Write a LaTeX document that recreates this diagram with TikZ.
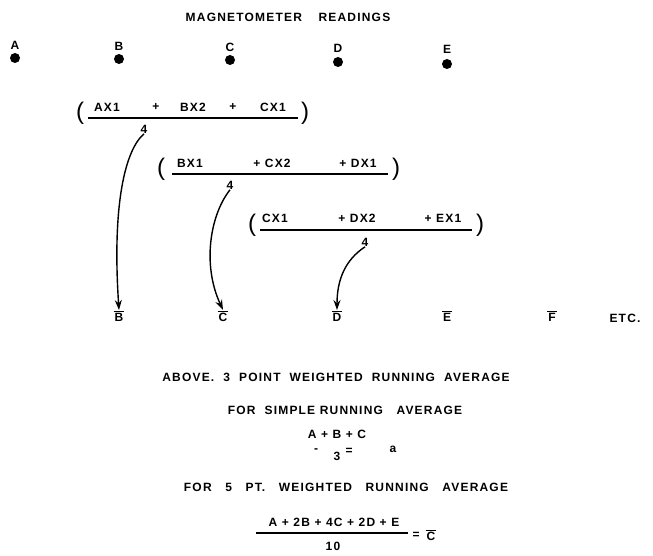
\documentclass[tikz,border=0pt]{standalone}
\usepackage{fontspec}
\newfontfamily\lbl{Liberation Sans}[LetterSpace=10]
\usetikzlibrary{arrows.meta}
\newcommand{\barred}[1]{\vbox{\hrule height 1.3pt\kern1pt\hbox{\kern1pt#1\kern1pt}}}

\begin{document}
\begin{tikzpicture}[x=1pt, y=-1pt,
      t/.style={font=\lbl\fontsize{12}{14}\selectfont\bfseries, inner sep=0pt},
      pt/.style={circle, fill, inner sep=0pt, minimum size=10pt},
      par/.style={font=\lbl\fontsize{24}{26}\selectfont, inner sep=0pt},
      >={Stealth[length=10pt, width=7pt]}, line width=1.4pt]
    \useasboundingbox (0,0) rectangle (653,556);
    \node[t] (title) at (288,17) {MAGNETOMETER\quad\ READINGS};
    % readings
    \node[t] (la) at (15,45) {A};  \node[pt] (pa) at (15,58) {};
    \node[t] (lb) at (119,46) {B}; \node[pt] (pb) at (119,59) {};
    \node[t] (lc) at (230,47) {C}; \node[pt] (pc) at (230,60) {};
    \node[t] (ld) at (338,48) {D}; \node[pt] (pd) at (338,62) {};
    \node[t] (le) at (447,49) {E}; \node[pt] (pe) at (447,64) {};
    % first average
    \node[par] (o1) at (80,113) {(};
    \node[t] (n11) at (107,107) {AX1};
    \node[t] (p11) at (156,107) {+};
    \node[t] (n12) at (193,107) {BX2};
    \node[t] (p12) at (233,107) {+};
    \node[t] (n13) at (273,107) {CX1};
    \node[par] (c1) at (305,113) {)};
    \coordinate (l1) at (88,118); \coordinate (r1) at (298,118);
    \draw[line width=2pt] (l1) -- (r1);
    \node[t] (d1) at (144,129) {4};
    % second average
    \node[par] (o2) at (161,169) {(};
    \node[t] (n21) at (190,163) {BX1};
    \node[t] (n22) at (272,163) {+ CX2};
    \node[t] (n23) at (358,163) {+ DX1};
    \node[par] (c2) at (396,169) {)};
    \coordinate (l2) at (172,174); \coordinate (r2) at (388,174);
    \draw[line width=2pt] (l2) -- (r2);
    \node[t] (d2) at (230,185) {4};
    % third average
    \node[par] (o3) at (252,225) {(};
    \node[t] (n31) at (275,218) {CX1};
    \node[t] (n32) at (357,218) {+ DX2};
    \node[t] (n33) at (443,218) {+ EX1};
    \node[par] (c3) at (480,225) {)};
    \coordinate (l3) at (260,230); \coordinate (r3) at (472,230);
    \draw[line width=2pt] (l3) -- (r3);
    \node[t] (d3) at (365,242) {4};
    % averaged values
    \node[t] (bB) at (119,316) {\barred{B}};
    \node[t] (bC) at (223,316) {\barred{C}};
    \node[t] (bD) at (337,316) {\barred{D}};
    \node[t] (bE) at (447,316) {\barred{E}};
    \node[t] (bF) at (552,316) {\barred{F}};
    \node[t] (etc) at (625,318) {ETC.};
    \draw[->] (d1.south) .. controls (125,150) and (112,205) .. (bB.north);
    \draw[->] (d2.south) .. controls (210,215) and (202,265) .. (bC.north);
    \draw[->] (d3.south) .. controls (345,260) and (337,280) .. (bD.north);
    % notes
    \node[t] (n1) at (336,377) {ABOVE.\ \ 3\ \ POINT\ \ WEIGHTED\ \ RUNNING\ \ AVERAGE};
    \node[t] (n2) at (345,410) {FOR\ \ SIMPLE RUNNING\ \ \ AVERAGE};
    \node[t] (s1) at (337,434) {A + B + C};
    \node[t] (s2) at (316,451) {-};
    \node[t] (s3) at (337,456) {3};
    \node[t] (s4) at (349,451) {=};
    \node[t] (s5) at (393,449) {a};
    \node[t] (n3) at (346,487) {FOR\ \ \ 5\ \ \ PT.\ \ \ WEIGHTED\ \ \ RUNNING\ \ \ AVERAGE};
    \node[t] (w1) at (334,522) {A + 2B + 4C + 2D + E};
    \coordinate (l4) at (256,533); \coordinate (r4) at (408,533);
    \draw[line width=2pt] (l4) -- (r4);
    \node[t] (w2) at (333,546) {10};
    \node[t] (w3) at (416,535) {=};
    \node[t] (w4) at (431,535) {\barred{C}};
  \end{tikzpicture}
\end{document}
